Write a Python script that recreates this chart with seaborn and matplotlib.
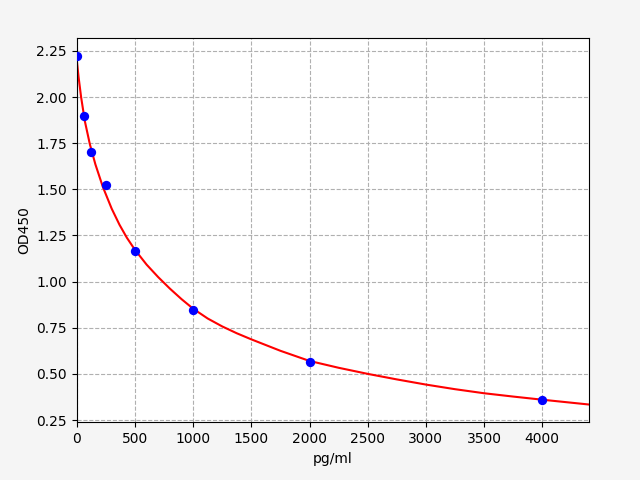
import numpy as np
import pandas as pd
import matplotlib
matplotlib.use("Agg")
import matplotlib.pyplot as plt
import seaborn as sns

# standards (measured points)
conc = [0, 62.5, 125, 250, 500, 1000, 2000, 4000]
od = [2.223, 1.895, 1.705, 1.525, 1.168, 0.848, 0.566, 0.360]

# fitted curve
curve_x = [0, 15, 37, 69, 112, 160, 224, 300, 367, 430, 500, 600, 700, 800, 900,
           1000, 1125, 1250, 1375, 1500, 1750, 2000, 2250, 2500, 2750, 3000,
           3250, 3500, 3750, 4000, 4400]
curve_y = [2.20, 2.11, 2.00, 1.87, 1.745, 1.635, 1.513, 1.395, 1.308, 1.238, 1.172,
           1.092, 1.024, 0.962, 0.905, 0.853, 0.800, 0.757, 0.720, 0.687, 0.625,
           0.570, 0.533, 0.500, 0.470, 0.442, 0.417, 0.395, 0.377, 0.360, 0.334]

pts = pd.DataFrame({"pg/ml": conc, "OD450": od})
fit = pd.DataFrame({"pg/ml": curve_x, "OD450": curve_y})

fig, ax = plt.subplots(figsize=(6.4, 4.8), dpi=100)
fig.patch.set_facecolor("#f5f5f5")
fig.subplots_adjust(left=0.12, right=0.92, bottom=0.12, top=0.92)

sns.lineplot(data=fit, x="pg/ml", y="OD450", color="red", linewidth=1.5, ax=ax, zorder=2)
sns.scatterplot(data=pts, x="pg/ml", y="OD450", color="blue", s=45, linewidth=0, ax=ax, zorder=3)

ax.set_xlim(0, 4400)
ax.set_ylim(0.237, 2.318)
ax.grid(True, linestyle="--", color="#b0b0b0")
ax.set_xlabel("pg/ml")
ax.set_ylabel("OD450")

fig.savefig("out.png", facecolor=fig.get_facecolor())
